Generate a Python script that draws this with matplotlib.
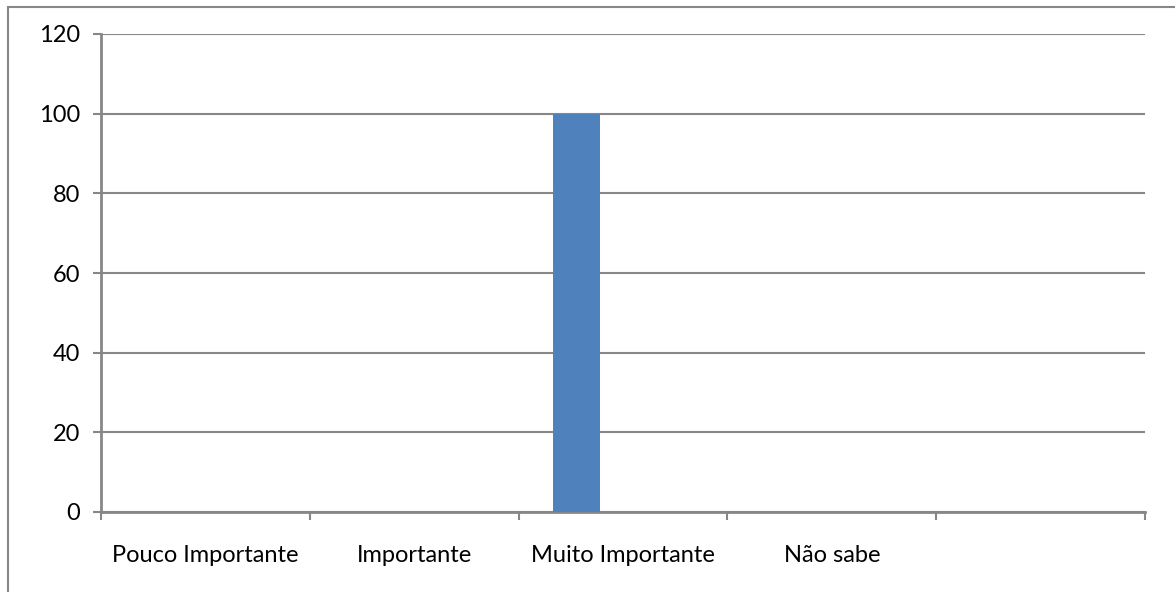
import matplotlib.pyplot as plt
from matplotlib.patches import Rectangle
import numpy as np

categories = ['Pouco Importante', 'Importante', 'Muito Importante', 'Não sabe', '']
series_1 = [0, 0, 100, 0, 0]
series_2 = [0, 0, 0, 0, 0]
series_3 = [0, 0, 0, 0, 0]
y_ticks = [0, 20, 40, 60, 80, 100, 120]

GRAY = '#878787'
BLUE = '#4F81BD'

plt.rcParams['font.family'] = ['Lato', 'DejaVu Sans']

fig = plt.figure(figsize=(11.75, 5.92), dpi=100)
ax = fig.add_axes([101 / 1175, 1 - 512 / 592, (1145 - 101) / 1175, (512 - 34) / 592])

# outer chart border (only top and left visible in the original)
fig.patches.append(Rectangle((7.5 / 1175, -0.1), 1.2, 1 - 6.5 / 592 + 0.1,
                             transform=fig.transFigure, fill=False,
                             edgecolor=GRAY, linewidth=1.5))

x = np.arange(len(categories))
w = 1 / 4.5  # excel clustered bars, gap width 150%
for i, s in enumerate([series_1, series_2, series_3]):
    ax.bar(x + (i - 1) * w, s, width=w, color=BLUE, zorder=3)

ax.set_xlim(-0.5, len(categories) - 0.5)
ax.set_ylim(0, 120)
ax.set_yticks(y_ticks)
ax.set_yticklabels([str(t) for t in y_ticks], fontsize=17)
ax.set_xticks(x)
ax.set_xticklabels(categories, fontsize=17)
ax.tick_params(axis='x', length=0, pad=24)
ax.tick_params(axis='y', length=6, width=1.5, color=GRAY, pad=9)

# category boundary ticks
ax.set_xticks(np.arange(len(categories) + 1) - 0.5, minor=True)
ax.tick_params(axis='x', which='minor', length=6, width=1.5, color=GRAY)

ax.grid(axis='y', color=GRAY, linewidth=1.5, zorder=0)
for side in ['top', 'right']:
    ax.spines[side].set_visible(False)
for side in ['left', 'bottom']:
    ax.spines[side].set_color(GRAY)
    ax.spines[side].set_linewidth(2)
ax.set_axisbelow(True)

fig.savefig('out.png', dpi=100)
